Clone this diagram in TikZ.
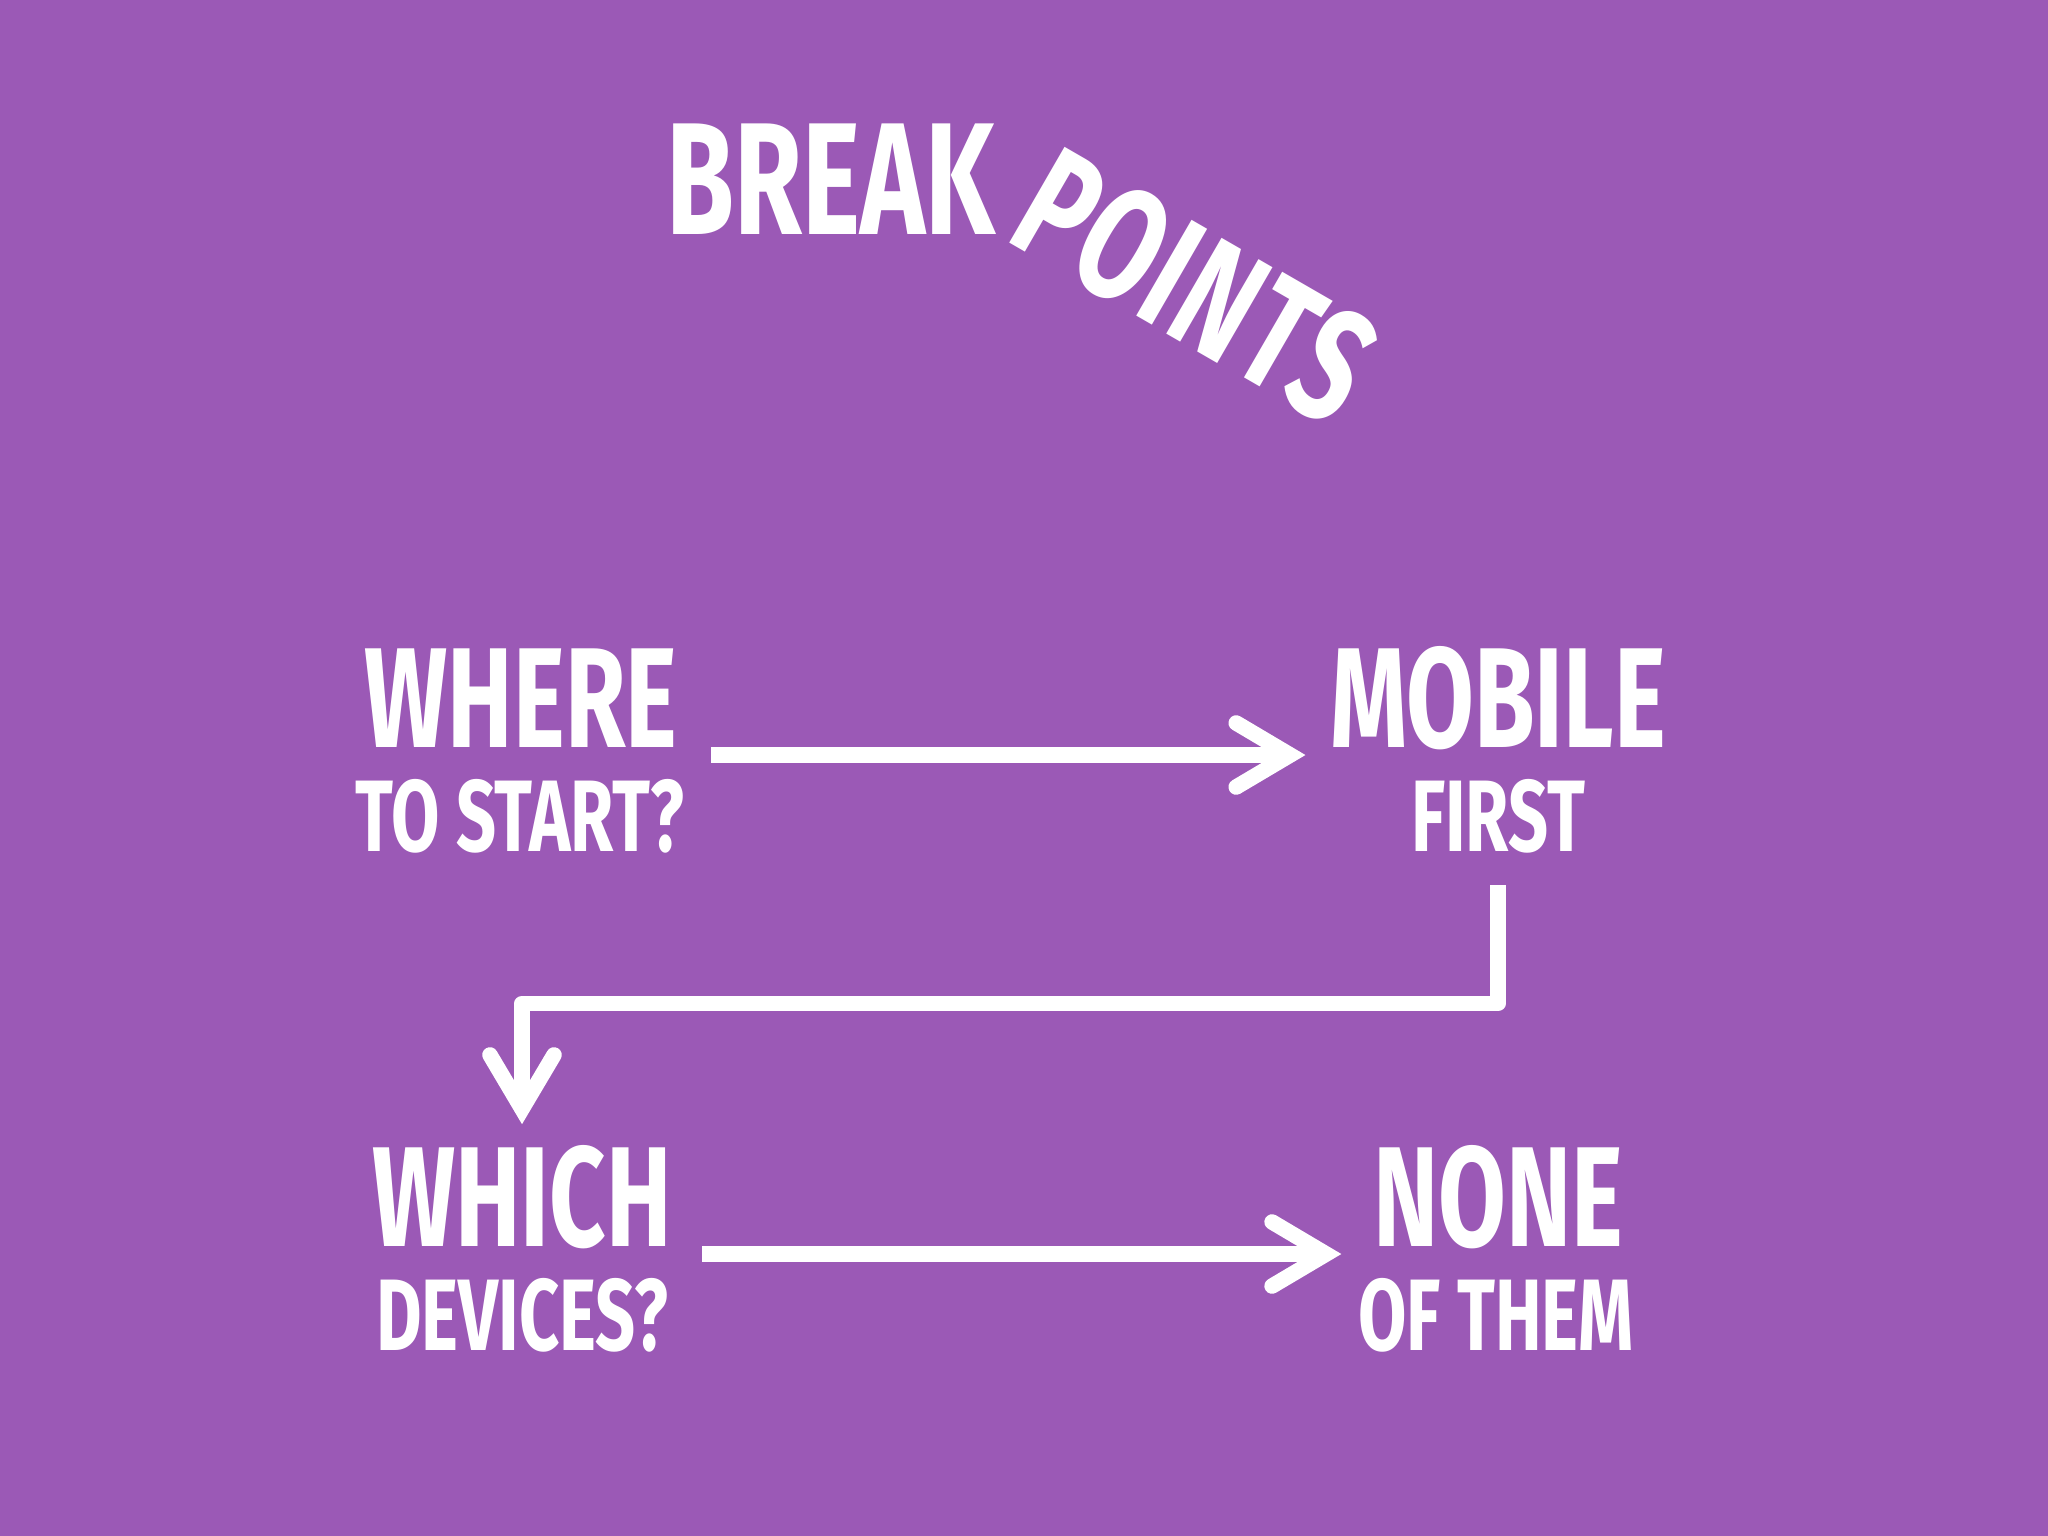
\documentclass[tikz,border=0pt]{standalone}
\usepackage{fontspec}
\newfontfamily\condfont[FakeStretch=0.69]{Fira Sans}
\newfontfamily\condwide[FakeStretch=0.69, LetterSpace=1.5]{Fira Sans}
\usetikzlibrary{arrows.meta}
\definecolor{bg}{HTML}{9B59B6}
\tikzset{
  lbl/.style={text=white, inner sep=0pt, anchor=base},
  bigtxt/.style={lbl, font=\condfont\bfseries\fontsize{40.5}{40}\selectfont},
  smalltxt/.style={lbl, font=\condfont\bfseries\fontsize{28.9}{29}\selectfont},
  titletxt/.style={lbl, font=\condfont\bfseries\fontsize{45.4}{45}\selectfont},
  titlewide/.style={lbl, font=\condwide\bfseries\fontsize{45.4}{45}\selectfont},
  conn/.style={draw=white, line width=0.155cm, line join=round,
    -{Straight Barb[length=0.54cm, width=0.64cm, line cap=round, line join=miter]}},
}
\begin{document}
\begin{tikzpicture}[x=0.01cm, y=-0.01cm]
\fill[bg] (0,0) rectangle (2048,1536);
\useasboundingbox (0,0) rectangle (2048,1536);
% title
\node[titletxt] (brk) at (831,234) {BREAK};
\node[titlewide, anchor=base west, rotate=-30] (pts) at (1003,239) {POINTS};
% blocks
\node[bigtxt] (where) at (521,747) {WHERE};
\node[smalltxt] (tostart) at (520,851) {TO START?};
\node[bigtxt] (mobile) at (1498,747) {MOBILE};
\node[smalltxt] (first) at (1498,851) {FIRST};
\node[bigtxt] (which) at (522,1246) {WHICH};
\node[smalltxt] (devices) at (522,1350) {DEVICES?};
\node[bigtxt] (none) at (1498,1246) {NONE};
\node[smalltxt] (ofthem) at (1496,1350) {OF THEM};
% connectors
\draw[conn] ([xshift=0.33cm, yshift=-0.08cm]where.base east) -- ([xshift=-0.24cm, yshift=-0.08cm]mobile.base west);
\draw[conn] ([yshift=-0.32cm]first.south) -- ++(0,118) -| ([yshift=0.20cm]which.north);
\draw[conn] ([xshift=0.30cm, yshift=-0.08cm]which.base east) -- ([xshift=-0.31cm, yshift=-0.08cm]none.base west);
\end{tikzpicture}
\end{document}
